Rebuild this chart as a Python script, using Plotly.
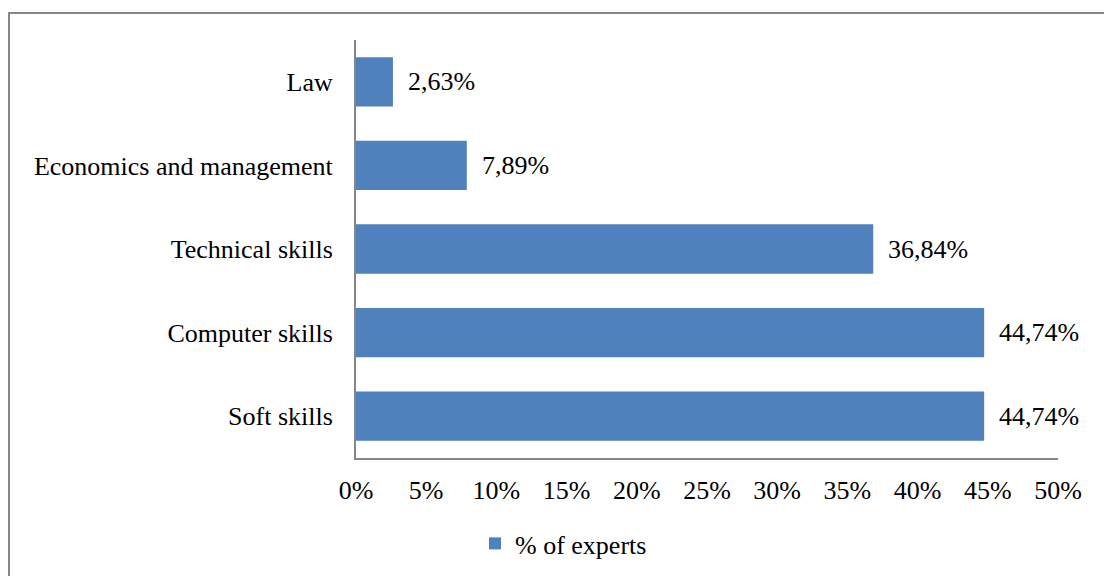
import plotly.graph_objects as go

categories = ["Soft skills", "Computer skills", "Technical skills", "Economics and management", "Law"]
values = [44.74, 44.74, 36.84, 7.89, 2.63]
labels = ["44,74%", "44,74%", "36,84%", "7,89%", "2,63%"]
tick_vals = [0, 5, 10, 15, 20, 25, 30, 35, 40, 45, 50]
tick_text = ["0%", "5%", "10%", "15%", "20%", "25%", "30%", "35%", "40%", "45%", "50%"]
series_name = "% of experts"

FONT = "Liberation Serif, Times New Roman, serif"
W, H = 1104, 576
L, R, T, B = 356, 46, 40, 118
pw, ph = W - L - R, H - T - B

fig = go.Figure()
fig.add_trace(go.Bar(
    y=categories, x=values, orientation="h", name=series_name,
    marker=dict(color="#4F81BD", line=dict(width=0)),
    showlegend=True,
))

annotations = []
for c, v, t in zip(categories, values, labels):
    annotations.append(dict(x=v, y=c, xref="x", yref="y", text=t, showarrow=False,
                            xanchor="left", yanchor="middle", xshift=13,
                            font=dict(family=FONT, size=26, color="#000000")))

def px_x(p):
    return (p - L) / pw

def px_y(p):
    return (H - B - p) / ph

fig.update_layout(
    width=W, height=H,
    margin=dict(l=L, r=R, t=T, b=B, pad=0, autoexpand=False),
    paper_bgcolor="white", plot_bgcolor="white",
    font=dict(family=FONT, size=26, color="#000000"),
    bargap=0.41,
    xaxis=dict(range=[0, 50], tickvals=tick_vals, ticktext=tick_text,
               showgrid=False, zeroline=False, showline=True, linecolor="#868686", linewidth=2,
               ticks="", ticklabelstandoff=8, fixedrange=True),
    yaxis=dict(showgrid=False, zeroline=False, showline=True, linecolor="#868686", linewidth=2,
               ticks="", ticklabelstandoff=16, fixedrange=True),
    legend=dict(orientation="h", x=px_x(475), y=px_y(520), xanchor="left", yanchor="top",
                font=dict(family=FONT, size=26), bgcolor="rgba(0,0,0,0)"),
    annotations=annotations,
    shapes=[dict(type="rect", xref="paper", yref="paper",
                 x0=px_x(9), y0=px_y(700), x1=px_x(1300), y1=px_y(13),
                 line=dict(color="#878787", width=2), fillcolor="rgba(0,0,0,0)", layer="below")],
)

fig.write_html("out.html")
